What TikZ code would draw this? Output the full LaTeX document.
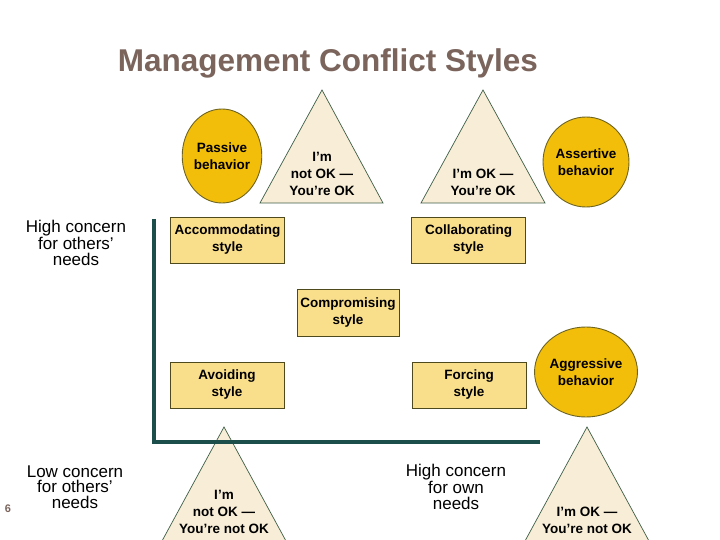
\documentclass[tikz,border=0pt]{standalone}
\usepackage{fontspec}
\setmainfont{Liberation Sans}
\usetikzlibrary{shapes.geometric}
\definecolor{titlec}{HTML}{7A645C}
\definecolor{gold}{HTML}{F2BE0A}
\definecolor{goldedge}{HTML}{6E6422}
\definecolor{boxfill}{HTML}{F9DE8C}
\definecolor{boxedge}{HTML}{4E4A1E}
\definecolor{trifill}{HTML}{F8EDD6}
\definecolor{triedge}{HTML}{3E5E46}
\definecolor{axis}{HTML}{1C4E4C}
\tikzset{
  stylebox/.style={draw=boxedge, line width=0.9pt, fill=boxfill, minimum width=114pt, minimum height=46pt, align=center, inner sep=0pt, font=\fontsize{13.5}{17}\selectfont\bfseries},
  behav/.style={draw=goldedge, line width=0.9pt, fill=gold, ellipse, inner sep=0pt, align=center, font=\fontsize{13.5}{17}\selectfont\bfseries},
  tri/.style={draw=triedge, line width=0.7pt, fill=trifill},
  tritext/.style={align=center, inner sep=0pt, font=\fontsize{13.5}{17}\selectfont\bfseries},
  concern/.style={align=center, inner sep=0pt, font=\fontsize{17}{15.5}\selectfont},
  axisline/.style={draw=axis, line width=3.6pt}
}
\begin{document}
\begin{tikzpicture}[x=1pt,y=-1pt]
\useasboundingbox (0,0) rectangle (720,540);
\fill[white] (0,0) rectangle (720,540);
\begin{scope}
\clip (0,0) rectangle (720,540);
% title
\node[font=\fontsize{31.5}{31}\selectfont\bfseries, text=titlec, inner sep=0pt] (title) at (328,63) {Management Conflict Styles};
% top triangles
\draw[tri] (322,90) -- (383,203) -- (260,203) -- cycle;
\draw[tri] (483,90) -- (545,203) -- (421,203) -- cycle;
\node[tritext] (t1) at (322,174) {I’m\\not OK —\\You’re OK};
\node[tritext] (t2) at (483,182.5) {I’m OK —\\You’re OK};
% ellipses
\node[behav, minimum width=74pt, minimum height=94pt] (passive) at (222,156) {Passive\\behavior};
\node[behav, minimum width=68pt, minimum height=90pt] (assertive) at (586,162) {Assertive\\behavior};
\node[behav, minimum width=70pt, minimum height=90pt] (aggressive) at (586,372) {Aggressive\\behavior};
% bottom triangles
\draw[tri] (224,427) -- (286,541) -- (162,541) -- cycle;
\draw[tri] (587,427) -- (649,541) -- (525,541) -- cycle;
\node[tritext] (t3) at (224,512) {I’m\\not OK —\\You’re not OK};
\node[tritext] (t4) at (587,520.5) {I’m OK —\\You’re not OK};
% axes
\coordinate (ytop) at (154,219);
\coordinate (origin) at (154,442);
\coordinate (xend) at (540,442);
\draw[axisline] (ytop) -- (origin) -- (xend);
% style boxes
\node[stylebox] (accom) at (227.5,240) {Accommodating\\style};
\node[stylebox] (collab) at (468.5,240) {Collaborating\\style};
\node[stylebox, minimum width=102pt, minimum height=47pt] (comprom) at (348,313) {Compromising\\style};
\node[stylebox] (avoid) at (227,385) {Avoiding\\style};
\node[stylebox] (forcing) at (469,385) {Forcing\\style};
% concern labels
\node[concern] (hio) at (76,243) {High concern\\for others’\\needs};
\node[concern] (loo) at (75,487) {Low concern\\for others’\\needs};
\node[concern] (hown) at (456,487) {High concern\\for own\\needs};
\node[font=\fontsize{11}{11}\selectfont\bfseries, text=titlec, inner sep=0pt] (pg) at (8,509) {6};
\end{scope}
\end{tikzpicture}
\end{document}
